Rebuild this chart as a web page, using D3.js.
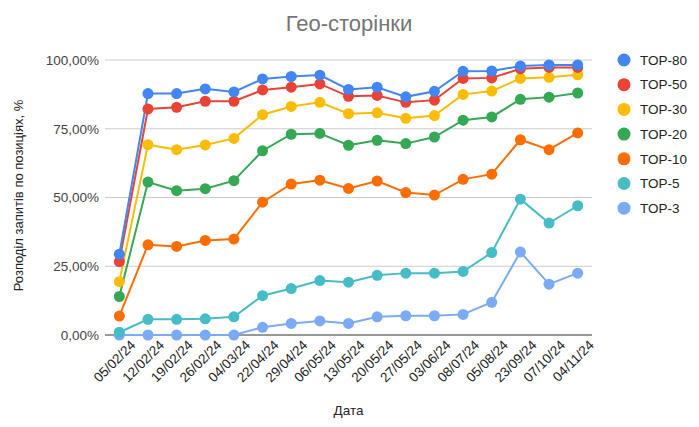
<!DOCTYPE html>
<html>
<head>
<meta charset="utf-8">
<script src="https://cdn.jsdelivr.net/npm/d3@7"></script>
<style>
  body { margin: 0; background: #fff; font-family: Arial, "Liberation Sans", sans-serif; }
</style>
</head>
<body>
<div id="chart"></div>
<script>
// data
var dates = ["05/02/24", "12/02/24", "19/02/24", "26/02/24", "04/03/24", "22/04/24", "29/04/24",
    "06/05/24", "13/05/24", "20/05/24", "27/05/24", "03/06/24", "08/07/24", "05/08/24",
    "23/09/24", "07/10/24", "04/11/24"];

var seriesNames = ["TOP-80", "TOP-50", "TOP-30", "TOP-20", "TOP-10", "TOP-5", "TOP-3"];
var seriesColors = ["#4285F4", "#EA4335", "#FBBC04", "#34A853", "#FF6D01", "#46BDC6", "#7BAAF7"];

var top80 = [29.4, 87.8, 87.8, 89.5, 88.4, 93.1, 94.0, 94.5, 89.3, 90.1, 86.6, 88.6, 95.9, 96.0, 97.8, 98.2, 98.2];
var top50 = [26.7, 82.2, 82.8, 85.0, 85.0, 89.1, 90.1, 91.3, 86.8, 87.1, 84.6, 85.4, 93.3, 93.5, 96.8, 97.3, 97.3];
var top30 = [19.4, 69.2, 67.4, 69.1, 71.5, 80.1, 83.1, 84.6, 80.5, 80.8, 78.8, 79.8, 87.5, 88.7, 93.3, 93.7, 94.6];
var top20 = [14.0, 55.6, 52.5, 53.2, 56.1, 67.0, 73.0, 73.3, 69.0, 70.8, 69.6, 72.0, 78.1, 79.3, 85.7, 86.5, 88.0];
var top10 = [6.9, 32.8, 32.2, 34.4, 34.9, 48.3, 54.9, 56.3, 53.3, 56.0, 51.8, 50.9, 56.6, 58.5, 71.0, 67.4, 73.5];
var top5 = [1.0, 5.7, 5.7, 5.9, 6.6, 14.3, 16.9, 19.8, 19.2, 21.7, 22.5, 22.5, 23.1, 30.0, 49.4, 40.7, 47.0];
var top3 = [0.0, 0.0, 0.0, 0.0, 0.0, 2.8, 4.2, 5.1, 4.2, 6.6, 7.0, 7.0, 7.5, 11.9, 30.2, 18.5, 22.5];

var yTicks = [0, 25, 50, 75, 100];

var svgWidth = 699;
var svgHeight = 427;

var margin = { top: 60, right: 107, bottom: 92, left: 105 };
var width = svgWidth - margin.left - margin.right;
var height = svgHeight - margin.top - margin.bottom;

var font = "Arial, 'Liberation Sans', sans-serif";

var seriesData = [top80, top50, top30, top20, top10, top5, top3];
var series = seriesNames.map(function(name, i) {
    return { name: name, color: seriesColors[i], values: seriesData[i] };
});

var svg = d3.select("#chart")
    .append("svg")
    .attr("width", svgWidth)
    .attr("height", svgHeight);

var chartGroup = svg.append("g")
    .attr("transform", `translate(${margin.left}, ${margin.top})`);

var xScale = d3.scalePoint()
    .domain(dates)
    .range([0, width])
    .padding(0.5);

var yScale = d3.scaleLinear()
    .domain([0, 100])
    .range([height, 0]);

var pct = function(v) { return d3.format(".2f")(v).replace(".", ",") + "%"; };

// gridlines
chartGroup.append("g")
    .selectAll("line")
    .data(yTicks.filter(d => d > 0))
    .enter()
    .append("line")
    .attr("x1", 0)
    .attr("x2", width)
    .attr("y1", d => yScale(d))
    .attr("y2", d => yScale(d))
    .attr("stroke", "#cccccc")
    .attr("stroke-width", 1);

// y axis labels
var leftAxis = d3.axisLeft(yScale).tickValues(yTicks).tickFormat(pct).tickSize(0).tickPadding(6);
var yAxisG = chartGroup.append("g").call(leftAxis);
yAxisG.select(".domain").remove();
yAxisG.selectAll("text")
    .attr("font-size", 13.5)
    .attr("font-family", font)
    .attr("fill", "#444");

// x axis
var bottomAxis = d3.axisBottom(xScale).tickSize(0).tickPadding(10);
var xAxisG = chartGroup.append("g")
    .attr("transform", `translate(0, ${height})`)
    .call(bottomAxis);
xAxisG.select(".domain").remove();
xAxisG.selectAll("text")
    .attr("font-size", 13.5)
    .attr("font-family", font)
    .attr("fill", "#222")
    .attr("text-anchor", "end")
    .attr("dx", "4")
    .attr("dy", "0.7em")
    .attr("transform", "rotate(-45)");

// baseline
chartGroup.append("line")
    .attr("x1", 0)
    .attr("x2", width)
    .attr("y1", yScale(0))
    .attr("y2", yScale(0))
    .attr("stroke", "#333")
    .attr("stroke-width", 1);

var line = d3.line()
    .x((d, i) => xScale(dates[i]))
    .y(d => yScale(d));

// draw the bottom series first so TOP-80 sits on top
var ordered = series.slice().reverse();

chartGroup.selectAll(".series-line")
    .data(ordered)
    .enter()
    .append("path")
    .attr("class", "series-line")
    .attr("d", d => line(d.values))
    .attr("fill", "none")
    .attr("stroke", d => d.color)
    .attr("stroke-width", 2);

ordered.forEach(function(s) {
    chartGroup.append("g")
        .selectAll("circle")
        .data(s.values)
        .enter()
        .append("circle")
        .attr("cx", (d, i) => xScale(dates[i]))
        .attr("cy", d => yScale(d))
        .attr("r", 5.5)
        .attr("fill", s.color);
});

// title
svg.append("text")
    .attr("x", 349)
    .attr("y", 31)
    .attr("text-anchor", "middle")
    .attr("font-size", 22)
    .attr("font-family", font)
    .attr("fill", "#757575")
    .text("Гео-сторінки");

// axis titles
svg.append("text")
    .attr("transform", `translate(23, ${margin.top + height / 2 - 2}) rotate(-90)`)
    .attr("text-anchor", "middle")
    .attr("font-size", 13)
    .attr("font-family", font)
    .attr("fill", "#222")
    .text("Розподіл запитів по позиціях, %");

svg.append("text")
    .attr("x", margin.left + width / 2)
    .attr("y", 415)
    .attr("text-anchor", "middle")
    .attr("font-size", 13.5)
    .attr("font-family", font)
    .attr("fill", "#222")
    .text("Дата");

// legend
var legend = svg.append("g")
    .attr("transform", "translate(624, 60)");

var legendItems = legend.selectAll("g")
    .data(series)
    .enter()
    .append("g")
    .attr("transform", (d, i) => `translate(0, ${i * 24.7})`);

legendItems.append("circle")
    .attr("r", 6.5)
    .attr("fill", d => d.color);

legendItems.append("text")
    .attr("x", 16)
    .attr("dy", "0.35em")
    .attr("font-size", 13.5)
    .attr("font-family", font)
    .attr("fill", "#222")
    .text(d => d.name);
</script>
</body>
</html>
